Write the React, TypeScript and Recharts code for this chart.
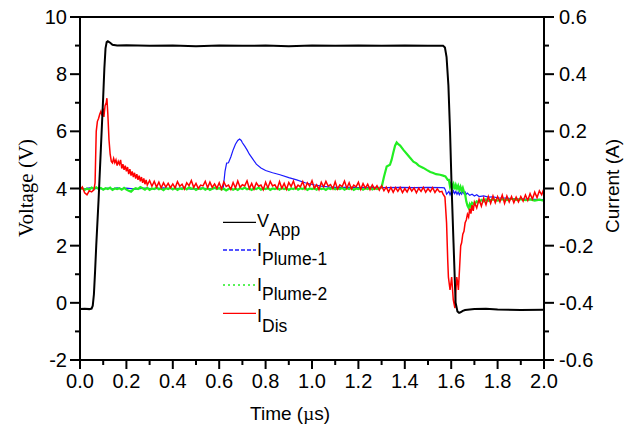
import React from 'react';
import { LineChart, Line, XAxis, YAxis, ReferenceLine, Legend } from 'recharts';

type Pt = [number, number];

// time in µs, voltage in V
const vApp: Pt[] = [
  [0, -0.22], [0.02, -0.21], [0.04, -0.22], [0.05, -0.2], [0.055, -0.1], [0.06, 0.3], [0.065, 1.1],
  [0.07, 2.0], [0.08, 3.6], [0.09, 5.4], [0.1, 7.2], [0.105, 8.2], [0.11, 8.9], [0.115, 9.12],
  [0.12, 9.15], [0.13, 9.1], [0.14, 9.03], [0.16, 9.0], [0.2, 9.01], [0.3, 8.99], [0.4, 9.0],
  [0.5, 8.98], [0.6, 9.0], [0.7, 8.99], [0.8, 9.0], [0.9, 8.98], [1.0, 9.0], [1.1, 8.99],
  [1.2, 9.0], [1.3, 8.99], [1.4, 9.0], [1.5, 8.99], [1.565, 8.99], [1.573, 8.93], [1.58, 8.6],
  [1.588, 7.6], [1.595, 6.0], [1.602, 4.0], [1.61, 2.1], [1.619, 0.0], [1.627, -0.3], [1.634, -0.35],
  [1.64, -0.33], [1.65, -0.28], [1.66, -0.25], [1.7, -0.22], [1.75, -0.21], [1.8, -0.23],
  [1.9, -0.25], [2.0, -0.24],
];

// currents in A
const iPlume1: Pt[] = [
  [0, 0.001], [0.02, -0.001], [0.04, 0.002], [0.06, -0.001], [0.08, 0.001], [0.1, -0.002],
  [0.12, 0.001], [0.14, -0.001], [0.16, 0.002], [0.18, -0.001], [0.2, 0.001], [0.24, -0.002],
  [0.28, 0.001], [0.32, -0.001], [0.36, 0.002], [0.4, -0.001], [0.44, 0.001], [0.48, -0.002],
  [0.52, 0.001], [0.56, -0.001], [0.6, 0.001], [0.615, 0.0], [0.618, 0.005], [0.625, 0.06],
  [0.632, 0.089], [0.64, 0.09], [0.65, 0.11], [0.66, 0.135], [0.67, 0.155], [0.68, 0.168],
  [0.688, 0.173], [0.695, 0.168], [0.7, 0.16], [0.71, 0.148], [0.72, 0.135], [0.73, 0.12],
  [0.745, 0.103], [0.76, 0.085], [0.78, 0.072], [0.8, 0.063], [0.83, 0.055], [0.862, 0.048],
  [0.9, 0.038], [0.934, 0.03], [0.97, 0.02], [1.006, 0.013], [1.04, 0.008], [1.078, 0.005],
  [1.1, 0.004], [1.16, 0.004], [1.2, 0.003], [1.26, 0.004], [1.32, 0.003], [1.38, 0.004],
  [1.44, 0.003], [1.5, 0.004], [1.56, 0.003], [1.57, 0.002], [1.575, -0.005], [1.58, -0.02],
  [1.585, -0.015], [1.59, -0.01], [1.595, -0.022], [1.6, -0.012], [1.605, -0.02], [1.61, -0.008],
  [1.615, -0.018], [1.62, -0.01], [1.625, -0.02], [1.63, -0.012], [1.635, -0.022], [1.64, -0.014],
  [1.645, -0.02], [1.65, -0.01], [1.655, -0.018], [1.66, -0.012], [1.665, -0.02], [1.67, -0.016],
  [1.68, -0.024], [1.69, -0.02], [1.7, -0.026], [1.71, -0.022], [1.72, -0.028], [1.74, -0.026],
  [1.76, -0.03], [1.78, -0.029], [1.8, -0.033], [1.84, -0.034], [1.88, -0.036], [1.92, -0.037],
  [1.96, -0.038], [2.0, -0.039],
];

const iPlume2: Pt[] = [
  [0, -0.002], [0.01, 0.001], [0.02, -0.005], [0.03, 0.0], [0.04, -0.004], [0.05, 0.003],
  [0.06, -0.001], [0.07, 0.004], [0.08, -0.002], [0.09, 0.002], [0.1, -0.004], [0.11, 0.001],
  [0.12, -0.002], [0.13, 0.003], [0.14, -0.005], [0.15, 0.0], [0.16, -0.002], [0.17, 0.001],
  [0.18, -0.004], [0.19, 0.002], [0.2, -0.004], [0.21, -0.008], [0.22, -0.011], [0.23, -0.003],
  [0.24, 0.001], [0.25, -0.002], [0.26, 0.005], [0.27, 0.001], [0.28, -0.004], [0.29, 0.002],
  [0.3, -0.005], [0.31, 0.0], [0.32, -0.002], [0.33, 0.004], [0.34, -0.003], [0.35, 0.0],
  [0.36, -0.006], [0.37, 0.001], [0.38, -0.002], [0.39, 0.003], [0.4, -0.003], [0.41, 0.002],
  [0.42, -0.005], [0.43, 0.0], [0.44, -0.002], [0.45, 0.003], [0.46, -0.003], [0.47, 0.004],
  [0.48, -0.001], [0.49, 0.001], [0.5, -0.005], [0.51, 0.0], [0.52, -0.002], [0.53, 0.002],
  [0.54, -0.004], [0.55, 0.001], [0.56, -0.005], [0.57, -0.001], [0.58, 0.003], [0.59, -0.002],
  [0.6, 0.001], [0.61, -0.004], [0.62, -0.001], [0.63, -0.007], [0.64, -0.002], [0.65, 0.001],
  [0.66, -0.004], [0.67, 0.0], [0.68, -0.005], [0.69, 0.001], [0.7, -0.002], [0.71, 0.003],
  [0.72, -0.003], [0.73, 0.0], [0.74, -0.005], [0.75, 0.001], [0.76, -0.002], [0.77, 0.003],
  [0.78, -0.004], [0.79, 0.0], [0.8, -0.002], [0.81, 0.002], [0.82, -0.005], [0.83, 0.0],
  [0.84, -0.002], [0.85, 0.002], [0.86, -0.004], [0.87, 0.002], [0.88, -0.002], [0.89, 0.001],
  [0.9, -0.005], [0.91, 0.0], [0.92, -0.002], [0.93, 0.003], [0.94, -0.004], [0.95, 0.001],
  [0.96, -0.002], [0.97, 0.003], [0.98, -0.005], [0.99, 0.0], [1.0, -0.002], [1.01, 0.001],
  [1.02, -0.004], [1.03, 0.002], [1.04, -0.002], [1.05, 0.0], [1.06, -0.005], [1.07, 0.001],
  [1.08, -0.002], [1.09, 0.003], [1.1, -0.003], [1.11, 0.0], [1.12, -0.002], [1.13, 0.002],
  [1.14, -0.004], [1.15, 0.001], [1.16, -0.002], [1.17, 0.003], [1.18, -0.005], [1.19, 0.0],
  [1.2, -0.002], [1.21, 0.002], [1.22, -0.004], [1.23, 0.001], [1.24, -0.002], [1.25, 0.003],
  [1.26, -0.003], [1.27, 0.001], [1.28, -0.002], [1.29, 0.002], [1.3, 0.004], [1.31, 0.04],
  [1.322, 0.077], [1.336, 0.083], [1.343, 0.1], [1.35, 0.124], [1.358, 0.15], [1.365, 0.161],
  [1.372, 0.155], [1.38, 0.15], [1.394, 0.135], [1.41, 0.12], [1.42, 0.11], [1.437, 0.094],
  [1.45, 0.088], [1.46, 0.08], [1.48, 0.072], [1.494, 0.065], [1.51, 0.058], [1.52, 0.055],
  [1.535, 0.05], [1.552, 0.048], [1.565, 0.045], [1.575, 0.042], [1.585, 0.03], [1.59, 0.03],
  [1.595, 0.007], [1.6, 0.018], [1.605, 0.003], [1.61, 0.015], [1.615, -0.003], [1.62, 0.012],
  [1.625, 0.0], [1.63, 0.01], [1.635, -0.005], [1.64, 0.006], [1.645, -0.008], [1.65, 0.002],
  [1.655, -0.012], [1.66, -0.02], [1.665, -0.045], [1.67, -0.06], [1.675, -0.068], [1.68, -0.055],
  [1.685, -0.064], [1.69, -0.05], [1.7, -0.056], [1.71, -0.045], [1.72, -0.048], [1.73, -0.04],
  [1.74, -0.045], [1.75, -0.038], [1.76, -0.043], [1.78, -0.038], [1.8, -0.042], [1.82, -0.037],
  [1.84, -0.041], [1.86, -0.036], [1.88, -0.04], [1.9, -0.037], [1.92, -0.041], [1.94, -0.038],
  [1.96, -0.042], [1.98, -0.039], [2.0, -0.043],
];

const iDis: Pt[] = [
  [0, -0.005], [0.01, 0.005], [0.02, -0.015], [0.03, -0.022], [0.04, -0.008], [0.05, -0.012],
  [0.06, -0.005], [0.065, 0.02], [0.07, 0.2], [0.075, 0.235], [0.08, 0.245], [0.085, 0.26],
  [0.09, 0.27], [0.095, 0.255], [0.1, 0.28], [0.103, 0.25], [0.108, 0.29], [0.113, 0.3],
  [0.116, 0.316], [0.12, 0.26], [0.125, 0.17], [0.13, 0.12], [0.135, 0.095], [0.14, 0.09],
  [0.145, 0.105], [0.15, 0.09], [0.155, 0.1], [0.16, 0.08], [0.165, 0.095], [0.17, 0.085],
  [0.175, 0.1], [0.18, 0.07], [0.185, 0.085], [0.19, 0.065], [0.195, 0.08], [0.2, 0.06],
  [0.205, 0.075], [0.21, 0.05], [0.215, 0.068], [0.22, 0.045], [0.225, 0.06], [0.23, 0.04],
  [0.235, 0.055], [0.24, 0.035], [0.245, 0.05], [0.25, 0.03], [0.255, 0.045], [0.26, 0.025],
  [0.265, 0.04], [0.27, 0.02], [0.275, 0.035], [0.28, 0.015], [0.285, 0.03], [0.29, 0.012],
  [0.3, 0.028], [0.31, 0.008], [0.32, 0.025], [0.33, 0.005], [0.34, 0.022], [0.35, 0.002],
  [0.36, 0.02], [0.37, 0.005], [0.38, 0.018], [0.39, 0.003], [0.4, 0.016], [0.41, 0.002],
  [0.42, 0.024], [0.43, 0.008], [0.44, 0.015], [0.45, -0.002], [0.46, 0.02], [0.47, 0.01],
  [0.48, 0.028], [0.49, 0.004], [0.5, 0.018], [0.51, 0.0], [0.52, 0.012], [0.53, 0.009],
  [0.54, 0.025], [0.55, 0.003], [0.56, 0.022], [0.57, 0.004], [0.58, 0.016], [0.59, 0.001],
  [0.6, 0.02], [0.61, -0.002], [0.62, 0.023], [0.63, 0.007], [0.64, 0.012], [0.65, -0.003],
  [0.66, 0.021], [0.67, 0.002], [0.68, 0.026], [0.69, 0.004], [0.7, 0.013], [0.71, 0.009],
  [0.72, 0.027], [0.73, 0.0], [0.74, 0.018], [0.75, -0.002], [0.76, 0.02], [0.77, 0.008],
  [0.78, 0.012], [0.79, -0.004], [0.8, 0.022], [0.81, 0.002], [0.82, 0.025], [0.83, 0.009],
  [0.84, 0.013], [0.85, -0.001], [0.86, 0.024], [0.87, 0.001], [0.88, 0.018], [0.89, -0.003],
  [0.9, 0.021], [0.91, 0.007], [0.92, 0.026], [0.93, 0.0], [0.94, 0.012], [0.95, 0.006],
  [0.96, 0.024], [0.97, -0.001], [0.98, 0.02], [0.99, 0.008], [1.0, 0.027], [1.01, 0.001],
  [1.02, 0.013], [1.03, -0.004], [1.04, 0.022], [1.05, 0.006], [1.06, 0.025], [1.07, 0.008],
  [1.08, 0.014], [1.09, -0.001], [1.1, 0.024], [1.11, -0.002], [1.12, 0.013], [1.13, 0.007],
  [1.14, 0.026], [1.15, 0.001], [1.16, 0.02], [1.17, -0.002], [1.18, 0.012], [1.19, 0.006],
  [1.2, 0.022], [1.21, -0.003], [1.22, 0.017], [1.23, 0.001], [1.24, 0.015], [1.25, -0.004],
  [1.26, 0.013], [1.27, -0.002], [1.28, 0.01], [1.29, -0.006], [1.3, 0.009], [1.31, -0.008],
  [1.32, 0.005], [1.33, -0.012], [1.34, 0.004], [1.35, -0.013], [1.36, 0.003], [1.37, -0.01],
  [1.38, 0.004], [1.39, -0.014], [1.4, 0.0], [1.41, -0.012], [1.42, 0.005], [1.43, -0.009],
  [1.44, 0.002], [1.45, -0.015], [1.46, 0.001], [1.47, -0.01], [1.48, 0.004], [1.49, -0.013],
  [1.5, 0.0], [1.51, -0.011], [1.52, 0.003], [1.53, -0.014], [1.54, -0.001], [1.55, -0.012],
  [1.56, -0.01], [1.565, -0.02], [1.573, -0.03], [1.58, -0.12], [1.585, -0.25], [1.588, -0.31],
  [1.595, -0.355], [1.602, -0.31], [1.609, -0.39], [1.616, -0.418], [1.62, -0.36], [1.624, -0.31],
  [1.628, -0.33], [1.631, -0.355], [1.636, -0.28], [1.641, -0.2], [1.645, -0.19], [1.65, -0.16],
  [1.655, -0.15], [1.66, -0.12], [1.665, -0.11], [1.67, -0.09], [1.675, -0.1], [1.68, -0.07],
  [1.685, -0.088], [1.69, -0.058], [1.695, -0.078], [1.7, -0.048], [1.71, -0.068], [1.72, -0.038],
  [1.73, -0.062], [1.74, -0.033], [1.75, -0.057], [1.76, -0.028], [1.77, -0.052], [1.78, -0.026],
  [1.79, -0.05], [1.8, -0.028], [1.81, -0.047], [1.82, -0.023], [1.83, -0.052], [1.84, -0.026],
  [1.85, -0.047], [1.86, -0.028], [1.87, -0.05], [1.88, -0.03], [1.89, -0.047], [1.9, -0.028],
  [1.91, -0.044], [1.92, -0.023], [1.93, -0.042], [1.94, -0.018], [1.95, -0.037], [1.96, -0.013],
  [1.97, -0.032], [1.98, -0.008], [1.99, -0.022], [2.0, 0.0],
];

const xTicks = [0, 0.1, 0.2, 0.3, 0.4, 0.5, 0.6, 0.7, 0.8, 0.9, 1.0, 1.1, 1.2, 1.3, 1.4, 1.5, 1.6, 1.7, 1.8, 1.9, 2.0];
const vTicks = [-2, -1, 0, 1, 2, 3, 4, 5, 6, 7, 8, 9, 10];
const iTicks = [-0.6, -0.5, -0.4, -0.3, -0.2, -0.1, 0, 0.1, 0.2, 0.3, 0.4, 0.5, 0.6];

const toRows = (pts: Pt[]) => pts.map(([t, y]) => ({ t, y }));

const SANS = '"Liberation Sans", Arial, sans-serif';
const SERIF = '"Liberation Serif", "Times New Roman", Times, "DejaVu Serif", serif';
const TICK_FONT = 20;

const isMajorTenth = (v: number) => Math.round(v * 10) % 2 === 0;

const LeftTick = (props: any) => {
  const { x, y, payload } = props;
  const v = payload.value;
  const major = v % 2 === 0;
  return (
    <g>
      <line x1={x - (major ? 10 : 5)} x2={x} y1={y} y2={y} stroke="#000" strokeWidth={2} />
      {major && (
        <text x={x - 13} y={y + 7} textAnchor="end" fontSize={TICK_FONT} style={{ fontFamily: SANS }} fill="#000">
          {v}
        </text>
      )}
    </g>
  );
};

const RightTick = (props: any) => {
  const { x, y, payload } = props;
  const v = payload.value;
  const major = isMajorTenth(v);
  return (
    <g>
      <line x1={x} x2={x + (major ? 10 : 5)} y1={y} y2={y} stroke="#000" strokeWidth={2} />
      {major && (
        <text x={x + 15} y={y + 7} textAnchor="start" fontSize={TICK_FONT} style={{ fontFamily: SANS }} fill="#000">
          {v.toFixed(1)}
        </text>
      )}
    </g>
  );
};

const BottomTick = (props: any) => {
  const { x, y, payload } = props;
  const v = payload.value;
  const major = isMajorTenth(v);
  return (
    <g>
      <line x1={x} x2={x} y1={y} y2={y + (major ? 9 : 5)} stroke="#000" strokeWidth={2} />
      {major && (
        <text x={x} y={y + 28} textAnchor="middle" fontSize={TICK_FONT} style={{ fontFamily: SANS }} fill="#000">
          {v.toFixed(1)}
        </text>
      )}
    </g>
  );
};

const LegendBox = () => {
  const rows = [
    { main: 'V', sub: 'App', color: '#000000', dash: undefined, lineY: 17.3, base: 21.7 },
    { main: 'I', sub: 'Plume-1', color: '#1a1aff', dash: '4 2', lineY: 45, base: 50.5 },
    { main: 'I', sub: 'Plume-2', color: '#22ee22', dash: '2 3', lineY: 80, base: 85.5 },
    { main: 'I', sub: 'Dis', color: '#ff0000', dash: undefined, lineY: 108.3, base: 117 },
  ];
  return (
    <svg width={140} height={135} style={{ display: 'block' }}>
      {rows.map((r) => (
        <g key={r.sub}>
          <line x1={8} x2={41} y1={r.lineY} y2={r.lineY} stroke={r.color} strokeWidth={1.3} strokeDasharray={r.dash} />
          <text x={42} y={r.base} fontSize={18} style={{ fontFamily: SANS }} fill="#000">
            {r.main}
            <tspan dy={9.5} fontSize={17.5}>{r.sub}</tspan>
          </text>
        </g>
      ))}
    </svg>
  );
};

export default function App() {
  return (
    <div style={{ position: 'absolute', left: 0, top: 0, background: '#fff' }}>
      <LineChart width={632} height={427} margin={{ top: 17, right: 0, bottom: 0, left: 0 }}>
        <XAxis
          dataKey="t"
          type="number"
          domain={[0, 2]}
          ticks={xTicks}
          interval={0}
          height={67}
          tickSize={0}
          tickMargin={0}
          tickLine={false}
          axisLine={{ stroke: '#000', strokeWidth: 2 }}
          tick={<BottomTick />}
          label={{
            content: () => (
              <text x={290} y={420} textAnchor="middle" fontSize={19} style={{ fontFamily: SANS }} fill="#000">
                Time (<tspan style={{ fontFamily: SERIF }}>µ</tspan>s)
              </text>
            ),
          }}
        />
        <YAxis
          yAxisId="v"
          orientation="left"
          domain={[-2, 10]}
          ticks={vTicks}
          interval={0}
          width={80}
          tickSize={0}
          tickMargin={0}
          tickLine={false}
          axisLine={{ stroke: '#000', strokeWidth: 2 }}
          tick={<LeftTick />}
          label={{
            content: () => (
              <text transform="translate(33,188) rotate(-90)" textAnchor="middle" fontSize={21} style={{ fontFamily: SERIF }} fill="#000">
                Voltage (V)
              </text>
            ),
          }}
        />
        <YAxis
          yAxisId="i"
          orientation="right"
          domain={[-0.6, 0.6]}
          ticks={iTicks}
          interval={0}
          width={88}
          tickSize={0}
          tickMargin={0}
          tickLine={false}
          axisLine={{ stroke: '#000', strokeWidth: 2 }}
          tick={<RightTick />}
          label={{
            content: () => (
              <text transform="translate(619,186) rotate(-90)" textAnchor="middle" fontSize={19} style={{ fontFamily: SANS }} fill="#000">
                Current (A)
              </text>
            ),
          }}
        />
        <ReferenceLine yAxisId="v" y={10} stroke="#000" strokeWidth={2} />
        <Line yAxisId="i" data={toRows(iPlume1)} dataKey="y" stroke="#1a1aff" strokeWidth={1.2} dot={false} isAnimationActive={false} />
        <Line yAxisId="i" data={toRows(iPlume2)} dataKey="y" stroke="#22ee22" strokeWidth={2.2} dot={false} isAnimationActive={false} />
        <Line yAxisId="i" data={toRows(iDis)} dataKey="y" stroke="#ff0000" strokeWidth={1.5} dot={false} isAnimationActive={false} />
        <Line yAxisId="v" data={toRows(vApp)} dataKey="y" stroke="#000000" strokeWidth={2} dot={false} isAnimationActive={false} />
        <Legend
          layout="vertical"
          align="center"
          verticalAlign="middle"
          content={() => <LegendBox />}
          wrapperStyle={{ left: 215, top: 205, width: 140, height: 135 }}
        />
      </LineChart>
    </div>
  );
}
